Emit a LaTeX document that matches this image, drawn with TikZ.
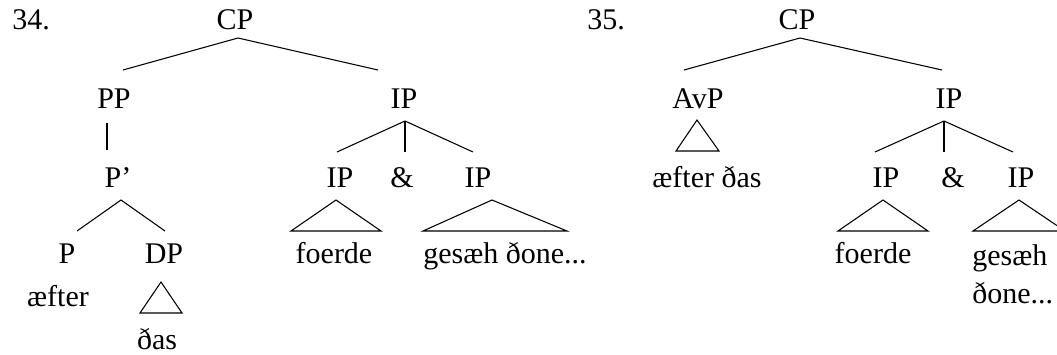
\documentclass[tikz,border=0pt]{standalone}
\usepackage{fontspec}
\setmainfont{Liberation Serif}

\begin{document}
\begin{tikzpicture}[x=0.75pt,y=-0.75pt,
    branche/.style={line width=0.8pt},
    etiq/.style={anchor=base,inner sep=0pt,font=\fontsize{22.5}{28.5}\selectfont}]
  \useasboundingbox (0,0) rectangle (1057,354);

  % Arbre 34 : les étiquettes
  \node[etiq,anchor=base west] (num34) at (12,29) {34.};
  \node[etiq] (cpA) at (235,29) {CP};
  \node[etiq] (ppA) at (114,108) {PP};
  \node[etiq] (ipA) at (404,108) {IP};
  \node[etiq] (pbarA) at (118,187) {P’};
  \node[etiq] (ipAg) at (340,187) {IP};
  \node[etiq] (etA) at (402,187) {\&};
  \node[etiq] (ipAd) at (478,187) {IP};
  \node[etiq] (pA) at (67,263) {P};
  \node[etiq] (dpA) at (164,263) {DP};
  \node[etiq] (foerdeA) at (334,263) {foerde};
  \node[etiq] (gesaehA) at (505,263) {gesæh ðone...};
  \node[etiq] (aefterA) at (58,306) {æfter};
  \node[etiq] (dasA) at (157,349) {ðas};

  % Arbre 34 : les branches
  \coordinate (cpA-b) at (238,38);
  \coordinate (ppA-h) at (123,70);
  \coordinate (ipA-h) at (378,70);
  \draw[branche] (ppA-h) -- (cpA-b) -- (ipA-h);
  \coordinate (ppA-b) at (107,123);
  \coordinate (pbarA-h) at (107,150);
  \draw[branche] (ppA-b) -- (pbarA-h);
  \coordinate (ipA-b) at (405,121);
  \coordinate (ipAg-h) at (337,152);
  \coordinate (etA-h) at (405,152);
  \coordinate (ipAd-h) at (473,152);
  \draw[branche] (ipAg-h) -- (ipA-b) -- (ipAd-h);
  \draw[branche] (ipA-b) -- (etA-h);
  \coordinate (pbarA-b) at (121,200);
  \coordinate (pA-h) at (77,231);
  \coordinate (dpA-h) at (165,231);
  \draw[branche] (pA-h) -- (pbarA-b) -- (dpA-h);

  % Arbre 34 : les triangles
  \draw[branche] (161,282) -- (140,313) -- (182,313) -- cycle;
  \draw[branche] (336,200) -- (291,231) -- (381,231) -- cycle;
  \draw[branche] (492,200) -- (423,231) -- (567,231) -- cycle;

  % Arbre 35 : les étiquettes
  \node[etiq,anchor=base west] (num35) at (587,29) {35.};
  \node[etiq] (cpB) at (797,29) {CP};
  \node[etiq] (avpB) at (698,108) {AvP};
  \node[etiq] (ipB) at (949,108) {IP};
  \node[etiq] (aefterB) at (707,187) {æfter ðas};
  \node[etiq] (ipBg) at (886,187) {IP};
  \node[etiq] (etB) at (953,187) {\&};
  \node[etiq] (ipBd) at (1021,187) {IP};
  \node[etiq] (foerdeB) at (873,263) {foerde};
  \node[etiq,anchor=base west,align=left] (gesaehB) at (972,303) {gesæh\\ðone...};

  % Arbre 35 : les branches
  \coordinate (cpB-b) at (800,38);
  \coordinate (avpB-h) at (684,70);
  \coordinate (ipB-h) at (942,70);
  \draw[branche] (avpB-h) -- (cpB-b) -- (ipB-h);
  \coordinate (ipB-b) at (944,121);
  \coordinate (ipBg-h) at (875,152);
  \coordinate (etB-h) at (944,152);
  \coordinate (ipBd-h) at (1013,152);
  \draw[branche] (ipBg-h) -- (ipB-b) -- (ipBd-h);
  \draw[branche] (ipB-b) -- (etB-h);

  % Arbre 35 : les triangles (le dernier est coupé au bord)
  \draw[branche] (697,120) -- (676,151) -- (719,151) -- cycle;
  \draw[branche] (883,200) -- (838,231) -- (928,231) -- cycle;
  \begin{scope}
    \clip (0,0) rectangle (1057,354);
    \draw[branche] (1019,200) -- (973,231) -- (1065,231) -- cycle;
  \end{scope}

\end{tikzpicture}
\end{document}
